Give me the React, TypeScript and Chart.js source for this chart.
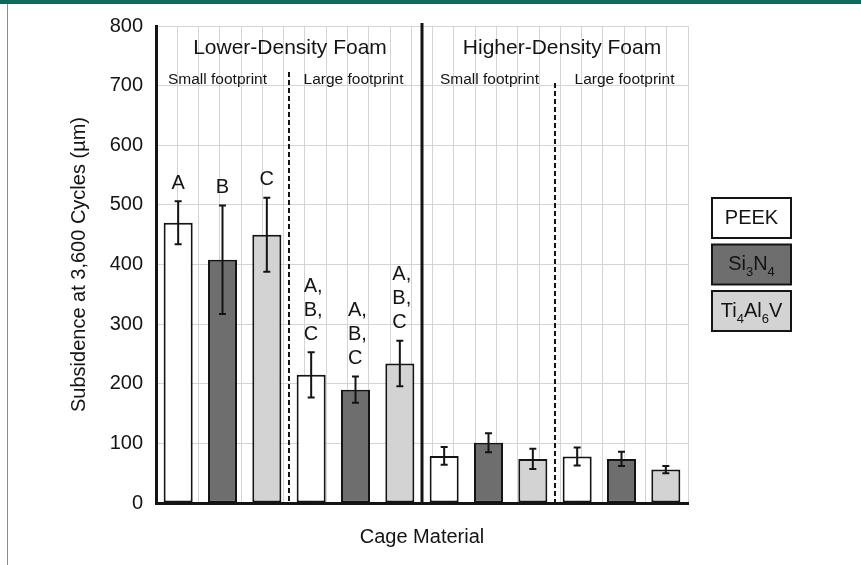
import React, { useEffect, useRef } from 'react';
import { Chart, registerables } from 'chart.js';

Chart.register(...registerables);

const FONT = '"Liberation Sans", Arial, Helvetica, sans-serif';
const INK = '#141414';

// 12 cages: 4 groups (density x footprint) of 3 materials
const categories = [
  'PEEK', 'Si3N4', 'Ti4Al6V',
  'PEEK', 'Si3N4', 'Ti4Al6V',
  'PEEK', 'Si3N4', 'Ti4Al6V',
  'PEEK', 'Si3N4', 'Ti4Al6V',
];
const subsidence = [470, 408, 450, 215, 190, 234, 79, 101, 74, 78, 74, 56];
const errors = [36, 91, 62, 38, 22, 38, 15, 16, 17, 15, 12, 6];
const letterLabels: string[][] = [
  ['A'], ['B'], ['C'],
  ['A,', 'B,', 'C'], ['A,', 'B,', 'C'], ['A,', 'B,', 'C'],
  [], [], [], [], [], [],
];
const materialColors: Record<string, string> = {
  PEEK: '#ffffff',
  Si3N4: '#6e6e6e',
  Ti4Al6V: '#d3d3d3',
};
const densityLabels = ['Lower-Density Foam', 'Higher-Density Foam'];
const footprintLabels = ['Small footprint', 'Large footprint', 'Small footprint', 'Large footprint'];
const legendLabels: { t: string; sub?: boolean }[][] = [
  [{ t: 'PEEK' }],
  [{ t: 'Si' }, { t: '3', sub: true }, { t: 'N' }, { t: '4', sub: true }],
  [{ t: 'Ti' }, { t: '4', sub: true }, { t: 'Al' }, { t: '6', sub: true }, { t: 'V' }],
];
const legendKeys = ['PEEK', 'Si3N4', 'Ti4Al6V'];

const annotations = {
  id: 'annotations',
  beforeDatasetsDraw(chart: any) {
    const { ctx, chartArea, scales } = chart;
    const x = scales.x;
    const boundary = (i: number) => (x.getPixelForValue(i) + x.getPixelForValue(i + 1)) / 2;
    ctx.save();
    // thick divider between densities
    ctx.strokeStyle = INK;
    ctx.lineWidth = 3;
    ctx.beginPath();
    ctx.moveTo(boundary(5), chartArea.top - 3);
    ctx.lineTo(boundary(5), chartArea.bottom);
    ctx.stroke();
    // dashed dividers between footprints
    ctx.lineWidth = 2;
    ctx.setLineDash([5, 3]);
    ctx.beginPath();
    ctx.moveTo(boundary(2), 72);
    ctx.lineTo(boundary(2), chartArea.bottom);
    ctx.moveTo(boundary(8), 83);
    ctx.lineTo(boundary(8), chartArea.bottom);
    ctx.stroke();
    ctx.restore();
  },
  afterDatasetsDraw(chart: any) {
    const { ctx, scales } = chart;
    const x = scales.x;
    const y = scales.y;
    ctx.save();
    // error bars + significance letters
    subsidence.forEach((v, i) => {
      const cx = x.getPixelForValue(i);
      const top = y.getPixelForValue(v + errors[i]);
      const bot = y.getPixelForValue(v - errors[i]);
      ctx.strokeStyle = INK;
      ctx.lineWidth = 2;
      ctx.beginPath();
      ctx.moveTo(cx, top);
      ctx.lineTo(cx, bot);
      ctx.moveTo(cx - 3.5, top);
      ctx.lineTo(cx + 3.5, top);
      ctx.moveTo(cx - 3.5, bot);
      ctx.lineTo(cx + 3.5, bot);
      ctx.stroke();
      const lines = letterLabels[i];
      ctx.font = `20px ${FONT}`;
      ctx.fillStyle = INK;
      ctx.textBaseline = 'middle';
      if (lines.length === 1) {
        ctx.textAlign = 'center';
        ctx.fillText(lines[0], cx, top - 18);
      } else {
        ctx.textAlign = 'left';
        lines.forEach((t, k) => {
          ctx.fillText(t, cx - 7.5, top - 18 - (lines.length - 1 - k) * 24);
        });
      }
    });
    // header labels
    ctx.fillStyle = INK;
    ctx.textAlign = 'center';
    ctx.textBaseline = 'middle';
    ctx.font = `21px ${FONT}`;
    ctx.fillText(densityLabels[0], x.getPixelForValue(2.5) + 1, 48);
    ctx.fillText(densityLabels[1], x.getPixelForValue(8.5) + 7, 48);
    ctx.font = `15.5px ${FONT}`;
    const fpX = [x.getPixelForValue(1) - 5, x.getPixelForValue(4) - 2, x.getPixelForValue(7) + 1, x.getPixelForValue(10) + 3];
    footprintLabels.forEach((t, k) => ctx.fillText(t, fpX[k], 80));
    ctx.restore();
  },
  afterDraw(chart: any) {
    const { ctx, chartArea } = chart;
    ctx.save();
    const bx = chartArea.right + 24;
    const bw = 79;
    const bh = 40;
    const tops = [198, 244.5, 291];
    legendKeys.forEach((k, i) => {
      const by = tops[i];
      ctx.fillStyle = materialColors[k];
      ctx.fillRect(bx, by, bw, bh);
      ctx.strokeStyle = INK;
      ctx.lineWidth = 2;
      ctx.strokeRect(bx, by, bw, bh);
      // label with subscripts
      const parts = legendLabels[i];
      const big = `20px ${FONT}`;
      const small = `13px ${FONT}`;
      let total = 0;
      parts.forEach((p) => {
        ctx.font = p.sub ? small : big;
        total += ctx.measureText(p.t).width;
      });
      let px = bx + bw / 2 - total / 2;
      ctx.fillStyle = INK;
      ctx.textAlign = 'left';
      ctx.textBaseline = 'middle';
      parts.forEach((p) => {
        ctx.font = p.sub ? small : big;
        ctx.fillText(p.t, px, by + bh / 2 + (p.sub ? 8 : 0));
        px += ctx.measureText(p.t).width;
      });
    });
    ctx.restore();
  },
};

export default function App() {
  const ref = useRef<HTMLCanvasElement | null>(null);
  useEffect(() => {
    if (!ref.current) return;
    const chart = new Chart(ref.current, {
      type: 'bar',
      data: {
        labels: categories,
        datasets: [
          {
            label: 'Subsidence',
            data: subsidence,
            xAxisID: 'x',
            yAxisID: 'y',
            backgroundColor: categories.map((c) => materialColors[c]),
            borderColor: INK,
            borderWidth: 2,
            borderSkipped: false,
            categoryPercentage: 1,
            barPercentage: 0.655,
          },
        ],
      },
      options: {
        animation: false,
        responsive: false,
        devicePixelRatio: 1,
        layout: { padding: { top: 26, right: 173, left: 0, bottom: 0 } },
        plugins: { legend: { display: false }, tooltip: { enabled: false } },
        scales: {
          x: {
            type: 'category',
            position: 'bottom',
            ticks: { display: false },
            grid: { display: false, drawTicks: false },
            border: { color: INK, width: 3 },
            title: {
              display: true,
              text: 'Cage Material',
              color: INK,
              font: { family: FONT, size: 20 },
              padding: { top: 0, bottom: 16 },
            },
            afterFit: (s: any) => {
              s.height = 62;
            },
          },
          xg: {
            type: 'linear',
            position: 'top',
            min: -0.5,
            max: 11.5,
            ticks: { display: false, stepSize: 0.5, maxTicksLimit: 100 },
            grid: { color: '#d4d4d4', lineWidth: 1, drawTicks: false },
            border: { display: false },
            afterFit: (s: any) => {
              s.height = 0;
            },
          },
          y: {
            min: 0,
            max: 800,
            ticks: {
              stepSize: 100,
              padding: 13,
              color: INK,
              font: { family: FONT, size: 20 },
            },
            grid: { color: '#d4d4d4', lineWidth: 1, drawTicks: false },
            border: { color: INK, width: 3 },
            title: {
              display: true,
              text: 'Subsidence at 3,600 Cycles (\u00b5m)',
              color: INK,
              font: { family: FONT, size: 20 },
              padding: { top: 67, bottom: 0 },
            },
            afterFit: (s: any) => {
              s.width = 156;
            },
          },
        },
      },
      plugins: [annotations],
    } as any);
    return () => chart.destroy();
  }, []);

  return (
    <div style={{ position: 'absolute', left: 0, top: 0, width: 861, height: 565, background: '#fff', overflow: 'hidden' }}>
      <div style={{ position: 'absolute', left: 0, top: 0, width: 861, height: 4, background: '#0b6a5c' }} />
      <div style={{ position: 'absolute', left: 7, top: 4, width: 1, height: 561, background: '#8c8c8c' }} />
      <canvas ref={ref} width={861} height={565} style={{ position: 'absolute', left: 0, top: 0, display: 'block' }} />
    </div>
  );
}
